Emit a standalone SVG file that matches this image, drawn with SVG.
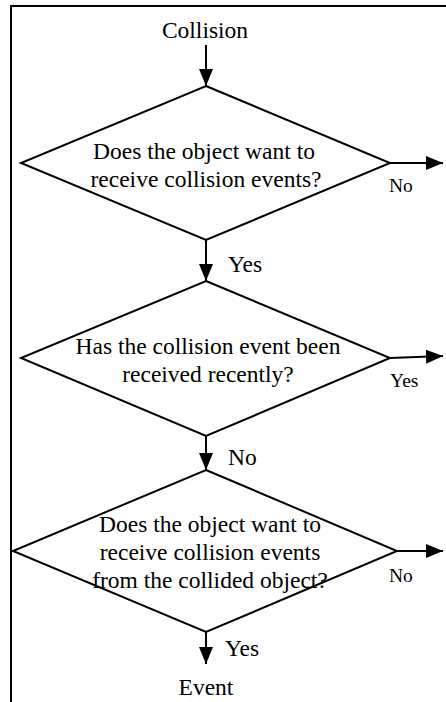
<svg xmlns="http://www.w3.org/2000/svg" width="446" height="702" viewBox="0 0 446 702">
<defs>
<marker id="ah" markerUnits="userSpaceOnUse" markerWidth="17" markerHeight="14" refX="17" refY="7" orient="auto">
<path d="M0,0 L17,7 L0,14 z" fill="#000"/>
</marker>
<style>
.t{font-family:"Liberation Serif","Times New Roman",serif;font-size:23.5px;fill:#000;text-anchor:middle}
.s{font-family:"Liberation Serif","Times New Roman",serif;font-size:19.5px;fill:#000;text-anchor:start}
.d{fill:#fff;stroke:#000;stroke-width:2}
.c{stroke:#000;stroke-width:2;fill:none;marker-end:url(#ah)}
</style>
</defs>
<rect width="446" height="702" fill="#fff"/>
<path d="M11,702 V6 H446" fill="none" stroke="#000" stroke-width="2"/>
<g id="start"><text class="t" x="205" y="38">Collision</text></g>
<g id="d1">
<polygon class="d" points="206,86 390,163 206,240 21,163"/>
<text class="t" x="204" y="159">Does the object want to</text>
<text class="t" x="206" y="187">receive collision events?</text>
</g>
<g id="d2">
<polygon class="d" points="206,281 390,358 206,436 21,358"/>
<text class="t" x="208" y="354">Has the collision event been</text>
<text class="t" x="208" y="382">received recently?</text>
</g>
<g id="d3">
<polygon class="d" points="206,470 397,551 206,632 13,551"/>
<text class="t" x="210" y="532">Does the object want to</text>
<text class="t" x="210" y="560">receive collision events</text>
<text class="t" x="210" y="588">from the collided object?</text>
</g>
<g id="end"><text class="t" x="206" y="695">Event</text></g>
<g id="connectors">
<line class="c" x1="206" y1="45" x2="206" y2="86"/>
<line class="c" x1="206" y1="240" x2="206" y2="281"/>
<line class="c" x1="206" y1="436" x2="206" y2="470"/>
<line class="c" x1="206" y1="632" x2="206" y2="664"/>
<line class="c" x1="390" y1="163" x2="443" y2="163"/>
<line class="c" x1="390" y1="358" x2="443" y2="356"/>
<line class="c" x1="397" y1="551" x2="443" y2="551"/>
<text class="t" x="228" y="272" style="text-anchor:start">Yes</text>
<text class="t" x="228" y="465" style="text-anchor:start">No</text>
<text class="t" x="225" y="656" style="text-anchor:start">Yes</text>
<text class="s" x="389" y="192">No</text>
<text class="s" x="390" y="387">Yes</text>
<text class="s" x="389" y="582">No</text>
</g>
</svg>
